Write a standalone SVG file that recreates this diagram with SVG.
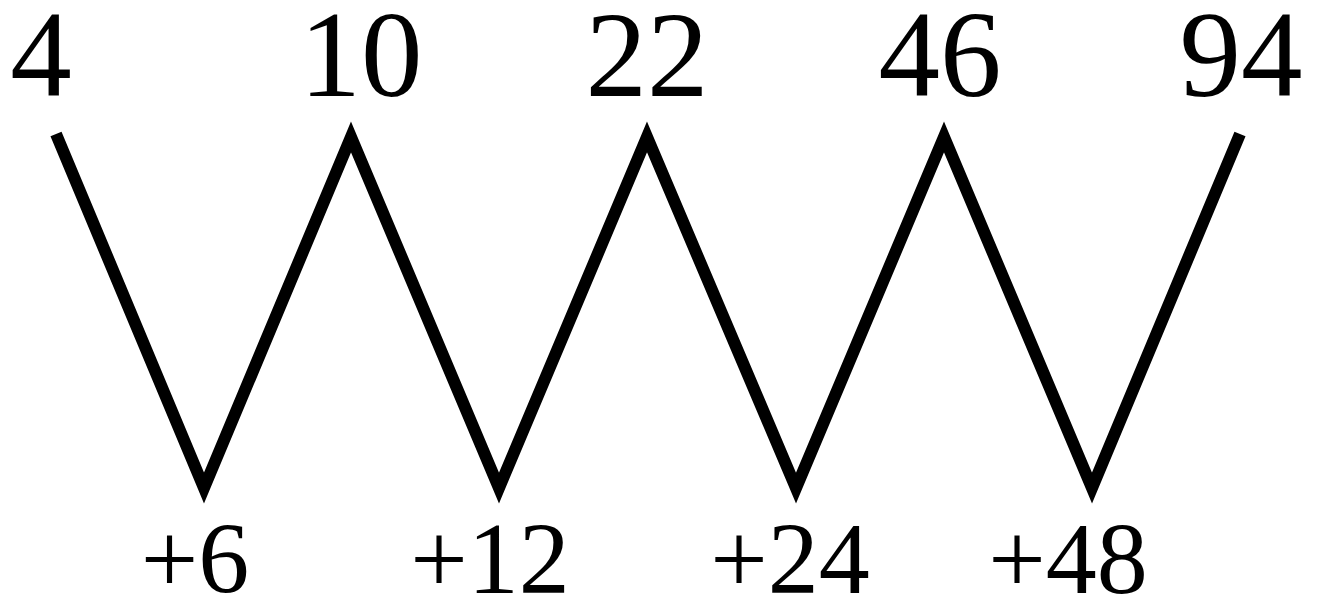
<svg xmlns="http://www.w3.org/2000/svg" width="1320" height="603" viewBox="0 0 1320 603">
<style>
.top{font-family:"Liberation Serif","Times New Roman",serif;font-size:123px;fill:#000;text-anchor:middle}
.bot{font-family:"Liberation Serif","Times New Roman",serif;font-size:102px;fill:#000;text-anchor:middle}
.zig{fill:none;stroke:#000;stroke-width:12;stroke-linejoin:miter;stroke-miterlimit:10;stroke-linecap:butt}
</style>
<rect width="1320" height="603" fill="#fff"/>
<g id="connectors">
<polyline class="zig" points="56,134 204,488 351,137 499,488 647,137 796,488 944,137 1092,488 1240,134"/>
</g>
<g id="n4"><text class="top" x="41" y="96">4</text></g>
<g id="n10"><text class="top" x="361" y="96">10</text></g>
<g id="n22"><text class="top" x="647" y="96">22</text></g>
<g id="n46"><text class="top" x="940" y="96">46</text></g>
<g id="n94"><text class="top" x="1241" y="96">94</text></g>
<g id="d6"><text class="bot" x="195" y="593">+6</text></g>
<g id="d12"><text class="bot" x="490" y="593">+12</text></g>
<g id="d24"><text class="bot" x="790" y="593">+24</text></g>
<g id="d48"><text class="bot" x="1068" y="593">+48</text></g>
</svg>
